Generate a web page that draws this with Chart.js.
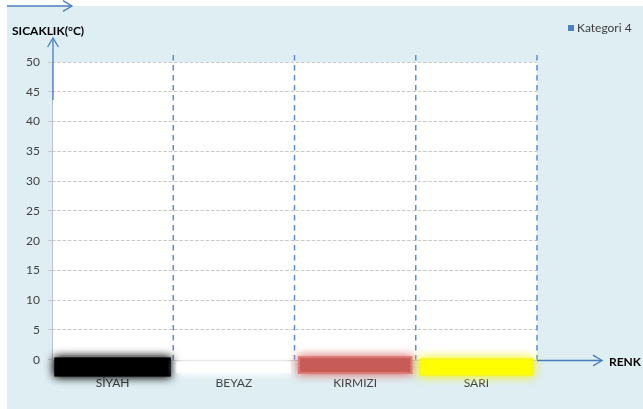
<!DOCTYPE html>
<html>
<head>
<meta charset="utf-8">
<script src="https://cdn.jsdelivr.net/npm/chart.js@4/dist/chart.umd.min.js"></script>
<style>
  html, body { margin: 0; padding: 0; background: #ffffff; }
  #wrap { width: 643px; height: 409px; position: relative; }
</style>
</head>
<body>
<div id="wrap"><canvas id="c" width="643" height="409"></canvas></div>
<script>
// Colour categories along the x axis
const categories = ['SİYAH', 'BEYAZ', 'KIRMIZI', 'SARI'];
// Each colour strip sits just under the zero line: top and bottom values
const barTop = [-0.15, -0.7, 0.25, 0.0];
const barBottom = [-2.3, -1.9, -2.05, -2.4];
const barColors = ['#000000', '#ffffff', '#c75b57', '#ffff00'];
const glowColors = ['rgba(0,0,0,0.9)', 'rgba(255,255,255,1)', 'rgba(220,120,115,0.85)', 'rgba(245,245,40,0.9)'];
// Temperature tick labels
const yTicks = [0, 5, 10, 15, 20, 25, 30, 35, 40, 45, 50];
const seriesName = 'Kategori 4';
const yTitle = 'SICAKLIK(°C)';
const xTitle = 'RENK';

const FONT = 'Lato, "Open Sans", sans-serif';
const BG = '#deeef3';
const ARROW = '#4a7ebb';

function arrowHead(ctx, tipX, tipY, dx, dy, size) {
  // open chevron pointing in direction (dx, dy)
  const px = -dy, py = dx;
  ctx.beginPath();
  ctx.moveTo(tipX - dx * size + px * size * 0.6, tipY - dy * size + py * size * 0.6);
  ctx.lineTo(tipX, tipY);
  ctx.lineTo(tipX - dx * size - px * size * 0.6, tipY - dy * size - py * size * 0.6);
  ctx.stroke();
}

const decor = {
  id: 'decor',
  beforeDraw(chart) {
    const { ctx, chartArea: a, scales: { y } } = chart;
    ctx.save();
    ctx.fillStyle = '#ffffff';
    ctx.fillRect(0, 0, chart.width, chart.height);
    ctx.fillStyle = BG;
    ctx.fillRect(7, 6, chart.width - 7, chart.height - 6);
    // white plotting surface between 0 and the top tick
    const yTop = y.getPixelForValue(yTicks[yTicks.length - 1]);
    const y0 = y.getPixelForValue(0);
    ctx.fillStyle = '#ffffff';
    ctx.fillRect(a.left, yTop, a.right - a.left, y0 - yTop);
    ctx.strokeStyle = '#b9c3c7';
    ctx.lineWidth = 1;
    ctx.beginPath();
    ctx.moveTo(a.left + 0.5, yTop);
    ctx.lineTo(a.left + 0.5, y0);
    ctx.stroke();
    ctx.restore();
  },
  beforeDatasetsDraw(chart) {
    const { ctx, chartArea: a, scales: { x, y } } = chart;
    const yTop = y.getPixelForValue(yTicks[yTicks.length - 1]);
    const y0 = y.getPixelForValue(0);
    ctx.save();
    // zero line
    ctx.strokeStyle = '#c4c4c4';
    ctx.lineWidth = 1;
    ctx.beginPath();
    ctx.moveTo(a.left, Math.round(y0) + 0.5);
    ctx.lineTo(a.right, Math.round(y0) + 0.5);
    ctx.stroke();
    // dashed category separators
    ctx.strokeStyle = '#5b8dd3';
    ctx.lineWidth = 1.5;
    ctx.setLineDash([5.5, 4.5]);
    for (let i = 1; i <= categories.length; i++) {
      const xp = i < categories.length
        ? (x.getPixelForTick(i - 1) + x.getPixelForTick(i)) / 2
        : a.right;
      ctx.beginPath();
      ctx.moveTo(xp, yTop - 7);
      ctx.lineTo(xp, y0);
      ctx.stroke();
    }
    ctx.setLineDash([]);
    // soft glow round each colour strip
    const meta = chart.getDatasetMeta(0);
    meta.data.forEach((el, i) => {
      const p = el.getProps(['x', 'y', 'base', 'width'], true);
      const top = Math.min(p.y, p.base), h = Math.abs(p.base - p.y);
      const grow = i === 0 ? 3 : 2;
      ctx.shadowColor = glowColors[i];
      ctx.shadowBlur = 10;
      ctx.fillStyle = glowColors[i];
      for (let k = 0; k < 2; k++) {
        ctx.fillRect(p.x - p.width / 2 - grow, top - grow, p.width + 2 * grow, h + 2 * grow);
      }
    });
    ctx.restore();
  },
  afterDraw(chart) {
    const { ctx, chartArea: a, scales: { y } } = chart;
    const y0 = Math.round(y.getPixelForValue(0)) + 0.5;
    const yTop = y.getPixelForValue(yTicks[yTicks.length - 1]);
    ctx.save();
    ctx.strokeStyle = ARROW;
    ctx.lineWidth = 1.3;
    // top frame arrow
    ctx.beginPath(); ctx.moveTo(7, 6); ctx.lineTo(72, 6); ctx.stroke();
    arrowHead(ctx, 72, 6, 1, 0, 9);
    // vertical axis arrow
    const ax = a.left + 1;
    ctx.beginPath(); ctx.moveTo(ax, yTop + 38); ctx.lineTo(ax, yTop - 24); ctx.stroke();
    arrowHead(ctx, ax, yTop - 24, 0, -1, 9);
    // horizontal axis arrow
    ctx.beginPath(); ctx.moveTo(a.right, y0); ctx.lineTo(a.right + 65, y0); ctx.stroke();
    arrowHead(ctx, a.right + 65, y0, 1, 0, 9);

    // axis titles
    ctx.fillStyle = '#000000';
    ctx.font = 'bold 12px ' + FONT;
    ctx.textBaseline = 'middle';
    ctx.textAlign = 'left';
    ctx.fillText(yTitle, 12, 31);
    ctx.fillText(xTitle, a.right + 72, y0 + 2);

    // legend
    ctx.fillStyle = '#4f81bd';
    ctx.fillRect(568, 25, 6, 6);
    ctx.fillStyle = '#404040';
    ctx.font = '12px ' + FONT;
    ctx.fillText(seriesName, 577, 28);
    ctx.restore();
  }
};

new Chart(document.getElementById('c'), {
  type: 'bar',
  data: {
    labels: categories,
    datasets: [{
      label: 'Renk',
      data: categories.map((c, i) => [barBottom[i], barTop[i]]),
      backgroundColor: barColors,
      borderWidth: 0,
      barPercentage: 0.91,
      categoryPercentage: 1,
      clip: false
    }]
  },
  options: {
    responsive: false,
    animation: false,
    devicePixelRatio: 1,
    layout: { padding: { left: 0, right: 106, top: 62, bottom: 18 } },
    plugins: { legend: { display: false }, tooltip: { enabled: false } },
    scales: {
      x: {
        grid: { display: false, drawTicks: false },
        border: { display: false },
        ticks: { color: '#404040', font: { family: FONT, size: 12 }, padding: 1 }
      },
      y: {
        min: -2.5,
        max: 50,
        afterBuildTicks(scale) { scale.ticks = yTicks.map(v => ({ value: v })); },
        afterFit(scale) { scale.width = 52; },
        grid: {
          color: ctx => (ctx.tick && ctx.tick.value === 0) ? 'rgba(0,0,0,0)' : '#c8c8c8',
          lineWidth: 1,
          drawTicks: true,
          tickLength: 4,
          tickColor: '#c8c8c8'
        },
        border: { display: false, dash: [3.5, 1.8] },
        ticks: { color: '#404040', font: { family: FONT, size: 12 }, padding: 8 }
      }
    }
  },
  plugins: [decor]
});
</script>
</body>
</html>
